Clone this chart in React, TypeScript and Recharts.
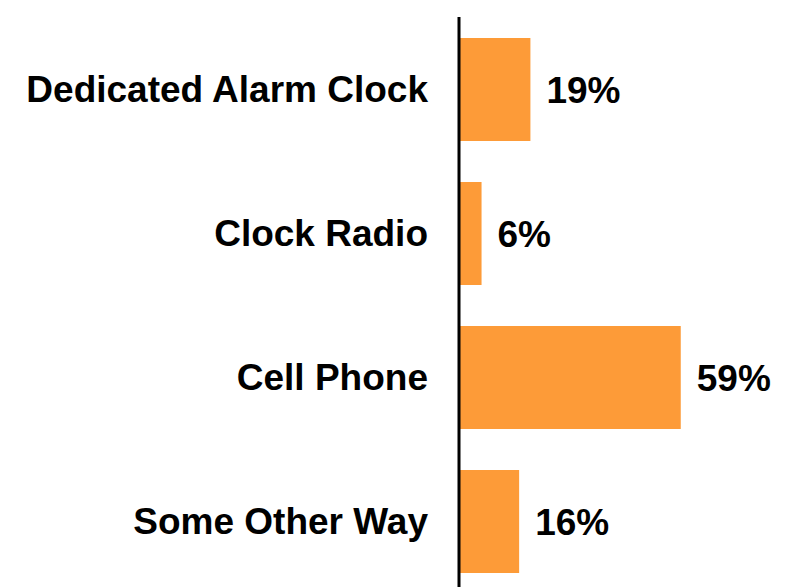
import { Bar, BarChart, LabelList, XAxis, YAxis } from 'recharts';

const categories = ['Dedicated Alarm Clock', 'Clock Radio', 'Cell Phone', 'Some Other Way'];
const shares = [19, 6, 59, 16];

const data = categories.map((name, i) => ({ name, value: shares[i] }));

const FONT = '"Liberation Sans", Arial, sans-serif';

function CategoryTick({ x, y, payload }: any) {
  return (
    <text
      x={x - 29}
      y={y}
      textAnchor="end"
      dominantBaseline="central"
      fontFamily={FONT}
      fontSize={37}
      fontWeight="bold"
      fill="#000"
    >
      {payload.value}
    </text>
  );
}

export default function App() {
  return (
    <div
      style={{
        position: 'absolute',
        left: 0,
        top: 0,
        width: 786,
        height: 587,
        overflow: 'hidden',
        background: '#fff',
      }}
    >
      <BarChart
        width={786}
        height={593}
        data={data}
        layout="vertical"
        margin={{ top: 17, right: 0, bottom: 0, left: 0 }}
      >
        <XAxis type="number" hide domain={[0, 87]} />
        <YAxis
          type="category"
          dataKey="name"
          width={459}
          tickLine={false}
          tickSize={0}
          axisLine={{ stroke: '#000', strokeWidth: 3 }}
          tick={<CategoryTick />}
          interval={0}
        />
        <Bar dataKey="value" fill="#FD9B38" barSize={103} isAnimationActive={false}>
          <LabelList
            dataKey="value"
            position="right"
            offset={16}
            formatter={(v: any) => `${v}%`}
            style={{ fontFamily: FONT, fontSize: 37, fontWeight: 'bold', fill: '#000' }}
          />
        </Bar>
      </BarChart>
    </div>
  );
}
